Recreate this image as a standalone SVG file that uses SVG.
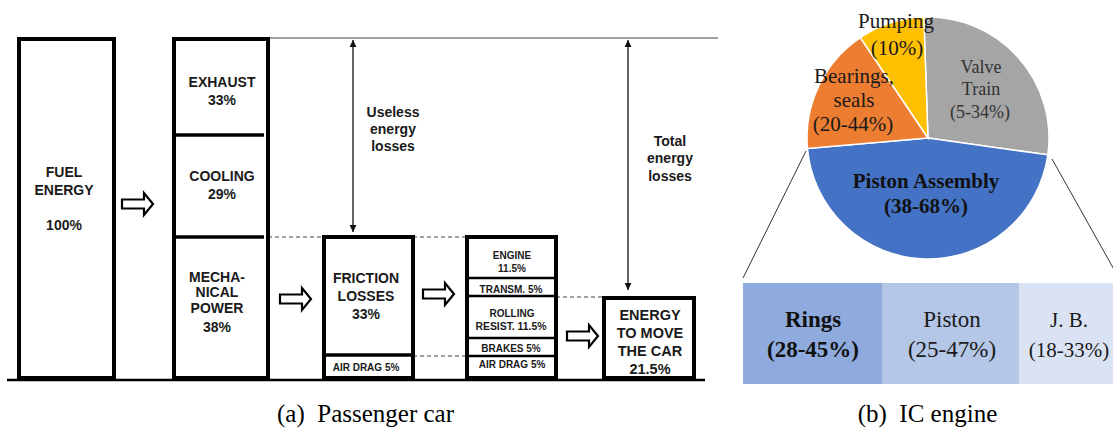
<svg xmlns="http://www.w3.org/2000/svg" width="1113" height="430" viewBox="0 0 1113 430">
<style>
.box{fill:#fff;stroke:#000;stroke-width:4}
.div{stroke:#000;stroke-width:3.5}
.div2{stroke:#000;stroke-width:2.5}
.dash{stroke:#444;stroke-width:1;stroke-dasharray:4 3;fill:none}
.t{font-family:"Liberation Sans",Arial,sans-serif;font-weight:bold;fill:#1a1a1a;text-anchor:middle}
.t14{font-size:14px}
.t10{font-size:10px}
.arrow{fill:#fff;stroke:#000;stroke-width:2.2;stroke-linejoin:miter}
.s{font-family:"Liberation Serif","Times New Roman",serif;text-anchor:middle}
.slice{stroke:#fff;stroke-width:1.5}
.zoom{stroke:#333;stroke-width:1;fill:none}
</style>
<defs>
<path id="blk" d="M0,-4.5 H22 V-11 L31,0 L22,11 V4.5 H0 Z"/>
<marker id="ah" viewBox="0 0 10 10" refX="10" refY="5" markerWidth="7" markerHeight="7" markerUnits="userSpaceOnUse" orient="auto-start-reverse">
<path d="M0,0 L10,5 L0,10 Z" fill="#111"/>
</marker>
</defs>

<g id="connectors">
<line x1="7" y1="380" x2="705" y2="380" stroke="#000" stroke-width="2.5"/>
<line x1="268" y1="38" x2="718" y2="38" stroke="#808080" stroke-width="1.6"/>
<line class="dash" x1="268" y1="237" x2="324" y2="237"/>
<line class="dash" x1="413" y1="237" x2="467" y2="237"/>
<line class="dash" x1="413" y1="356" x2="467" y2="356"/>
<line class="dash" x1="556" y1="297" x2="604" y2="297"/>
<line x1="353" y1="40" x2="353" y2="232" stroke="#111" stroke-width="1.3" marker-start="url(#ah)" marker-end="url(#ah)"/>
<line x1="628" y1="40" x2="628" y2="290" stroke="#111" stroke-width="1.3" marker-start="url(#ah)" marker-end="url(#ah)"/>
<use href="#blk" class="arrow" x="122" y="204"/>
<use href="#blk" class="arrow" x="280" y="299"/>
<use href="#blk" class="arrow" x="423" y="294"/>
<use href="#blk" class="arrow" x="567" y="336"/>
<line class="zoom" x1="806" y1="151" x2="743" y2="278"/>
<line class="zoom" x1="1052" y1="159" x2="1116" y2="273"/>
</g>

<g id="fuel">
<rect class="box" x="19" y="39" width="95" height="339"/>
<text class="t t14" x="64" y="177">FUEL</text>
<text class="t t14" x="64" y="195">ENERGY</text>
<text class="t t14" x="64" y="230">100%</text>
</g>

<g id="split">
<rect class="box" x="174" y="39" width="94" height="339"/>
<line class="div" x1="174" y1="135" x2="264" y2="135"/>
<line class="div" x1="174" y1="237" x2="264" y2="237"/>
<text class="t t14" x="222" y="87">EXHAUST</text>
<text class="t t14" x="222" y="105">33%</text>
<text class="t t14" x="222" y="181">COOLING</text>
<text class="t t14" x="222" y="199">29%</text>
<text class="t t14" x="217" y="282">MECHA-</text>
<text class="t t14" x="217" y="297">NICAL</text>
<text class="t t14" x="217" y="313">POWER</text>
<text class="t t14" x="217" y="332">38%</text>
</g>

<g id="useless">
<text class="t t14" x="393" y="117">Useless</text>
<text class="t t14" x="393" y="134">energy</text>
<text class="t t14" x="393" y="151">losses</text>
</g>

<g id="total">
<text class="t t14" x="670" y="146">Total</text>
<text class="t t14" x="670" y="163">energy</text>
<text class="t t14" x="670" y="181">losses</text>
</g>

<g id="friction">
<rect class="box" x="324" y="237" width="89" height="141"/>
<line class="div" x1="324" y1="355" x2="413" y2="355"/>
<text class="t t14" x="366" y="283">FRICTION</text>
<text class="t t14" x="366" y="301">LOSSES</text>
<text class="t t14" x="366" y="319">33%</text>
<text class="t t10" x="366" y="371">AIR DRAG 5%</text>
</g>

<g id="breakdown">
<rect class="box" x="467" y="237" width="89" height="141"/>
<line class="div2" x1="467" y1="278" x2="556" y2="278"/>
<line class="div2" x1="467" y1="296" x2="556" y2="296"/>
<line class="div2" x1="467" y1="338" x2="556" y2="338"/>
<line class="div2" x1="467" y1="356" x2="556" y2="356"/>
<text class="t t10" x="512" y="259">ENGINE</text>
<text class="t t10" x="512" y="272">11.5%</text>
<text class="t t10" x="511" y="292.5">TRANSM. 5%</text>
<text class="t t10" x="512" y="316.5">ROLLING</text>
<text class="t" style="font-size:10.4px" x="511" y="330">RESIST. 11.5%</text>
<text class="t t10" x="511" y="351.5">BRAKES 5%</text>
<text class="t t10" x="512" y="368">AIR DRAG 5%</text>
</g>

<g id="move">
<rect class="box" x="604" y="298" width="90" height="80"/>
<text class="t" style="font-size:14.5px" x="650" y="320">ENERGY</text>
<text class="t" style="font-size:14.5px" x="650" y="338">TO MOVE</text>
<text class="t" style="font-size:14.5px" x="650" y="356">THE CAR</text>
<text class="t" style="font-size:14.5px" x="650" y="374">21.5%</text>
</g>

<g id="pie">
<path class="slice" fill="#A5A5A5" d="M928,138 L923.78,17.07 A121,121 0 0 1 1047.82,154.84 Z"/>
<path class="slice" fill="#4472C4" d="M928,138 L1047.82,154.84 A121,121 0 0 1 807.46,148.55 Z"/>
<path class="slice" fill="#ED7D31" d="M928,138 L807.46,148.55 A121,121 0 0 1 860.34,37.69 Z"/>
<path class="slice" fill="#FFC000" d="M928,138 L860.34,37.69 A121,121 0 0 1 923.78,17.07 Z"/>
<text class="s" style="font-size:21px" fill="#1a1a1a" x="896" y="28">Pumping</text>
<text class="s" style="font-size:21px" fill="#1a1a1a" x="897" y="55">(10%)</text>
<text class="s" style="font-size:21px" fill="#1a1a1a" x="854" y="83">Bearings,</text>
<text class="s" style="font-size:21px" fill="#1a1a1a" x="854" y="107">seals</text>
<text class="s" style="font-size:21px" fill="#1a1a1a" x="853" y="131">(20-44%)</text>
<text class="s" style="font-size:18px" fill="#333" x="981" y="73">Valve</text>
<text class="s" style="font-size:18px" fill="#333" x="981" y="95">Train</text>
<text class="s" style="font-size:18px" fill="#333" x="980" y="118">(5-34%)</text>
<text class="s" style="font-size:21px;font-weight:bold" fill="#111" x="926" y="188">Piston Assembly</text>
<text class="s" style="font-size:21px;font-weight:bold" fill="#111" x="926" y="213">(38-68%)</text>
</g>

<g id="bar">
<rect x="743" y="283" width="139" height="101" fill="#8FAADC"/>
<rect x="882" y="283" width="137" height="101" fill="#B4C7E7"/>
<rect x="1019" y="283" width="94" height="101" fill="#DAE3F3"/>
<text class="s" style="font-size:23px;font-weight:bold" fill="#111" x="813" y="327">Rings</text>
<text class="s" style="font-size:23px;font-weight:bold" fill="#111" x="813" y="357">(28-45%)</text>
<text class="s" style="font-size:23px" fill="#1a1a1a" x="952" y="327">Piston</text>
<text class="s" style="font-size:23px" fill="#1a1a1a" x="952" y="357">(25-47%)</text>
<text class="s" style="font-size:21px" fill="#1a1a1a" x="1069" y="327">J. B.</text>
<text class="s" style="font-size:21px" fill="#1a1a1a" x="1069" y="357">(18-33%)</text>
</g>

<g id="captions">
<text class="s" style="font-size:25px;white-space:pre" fill="#000" x="365.5" y="422">(a)  Passenger car</text>
<text class="s" style="font-size:25px;white-space:pre" fill="#000" x="927.5" y="422">(b)  IC engine</text>
</g>
</svg>
